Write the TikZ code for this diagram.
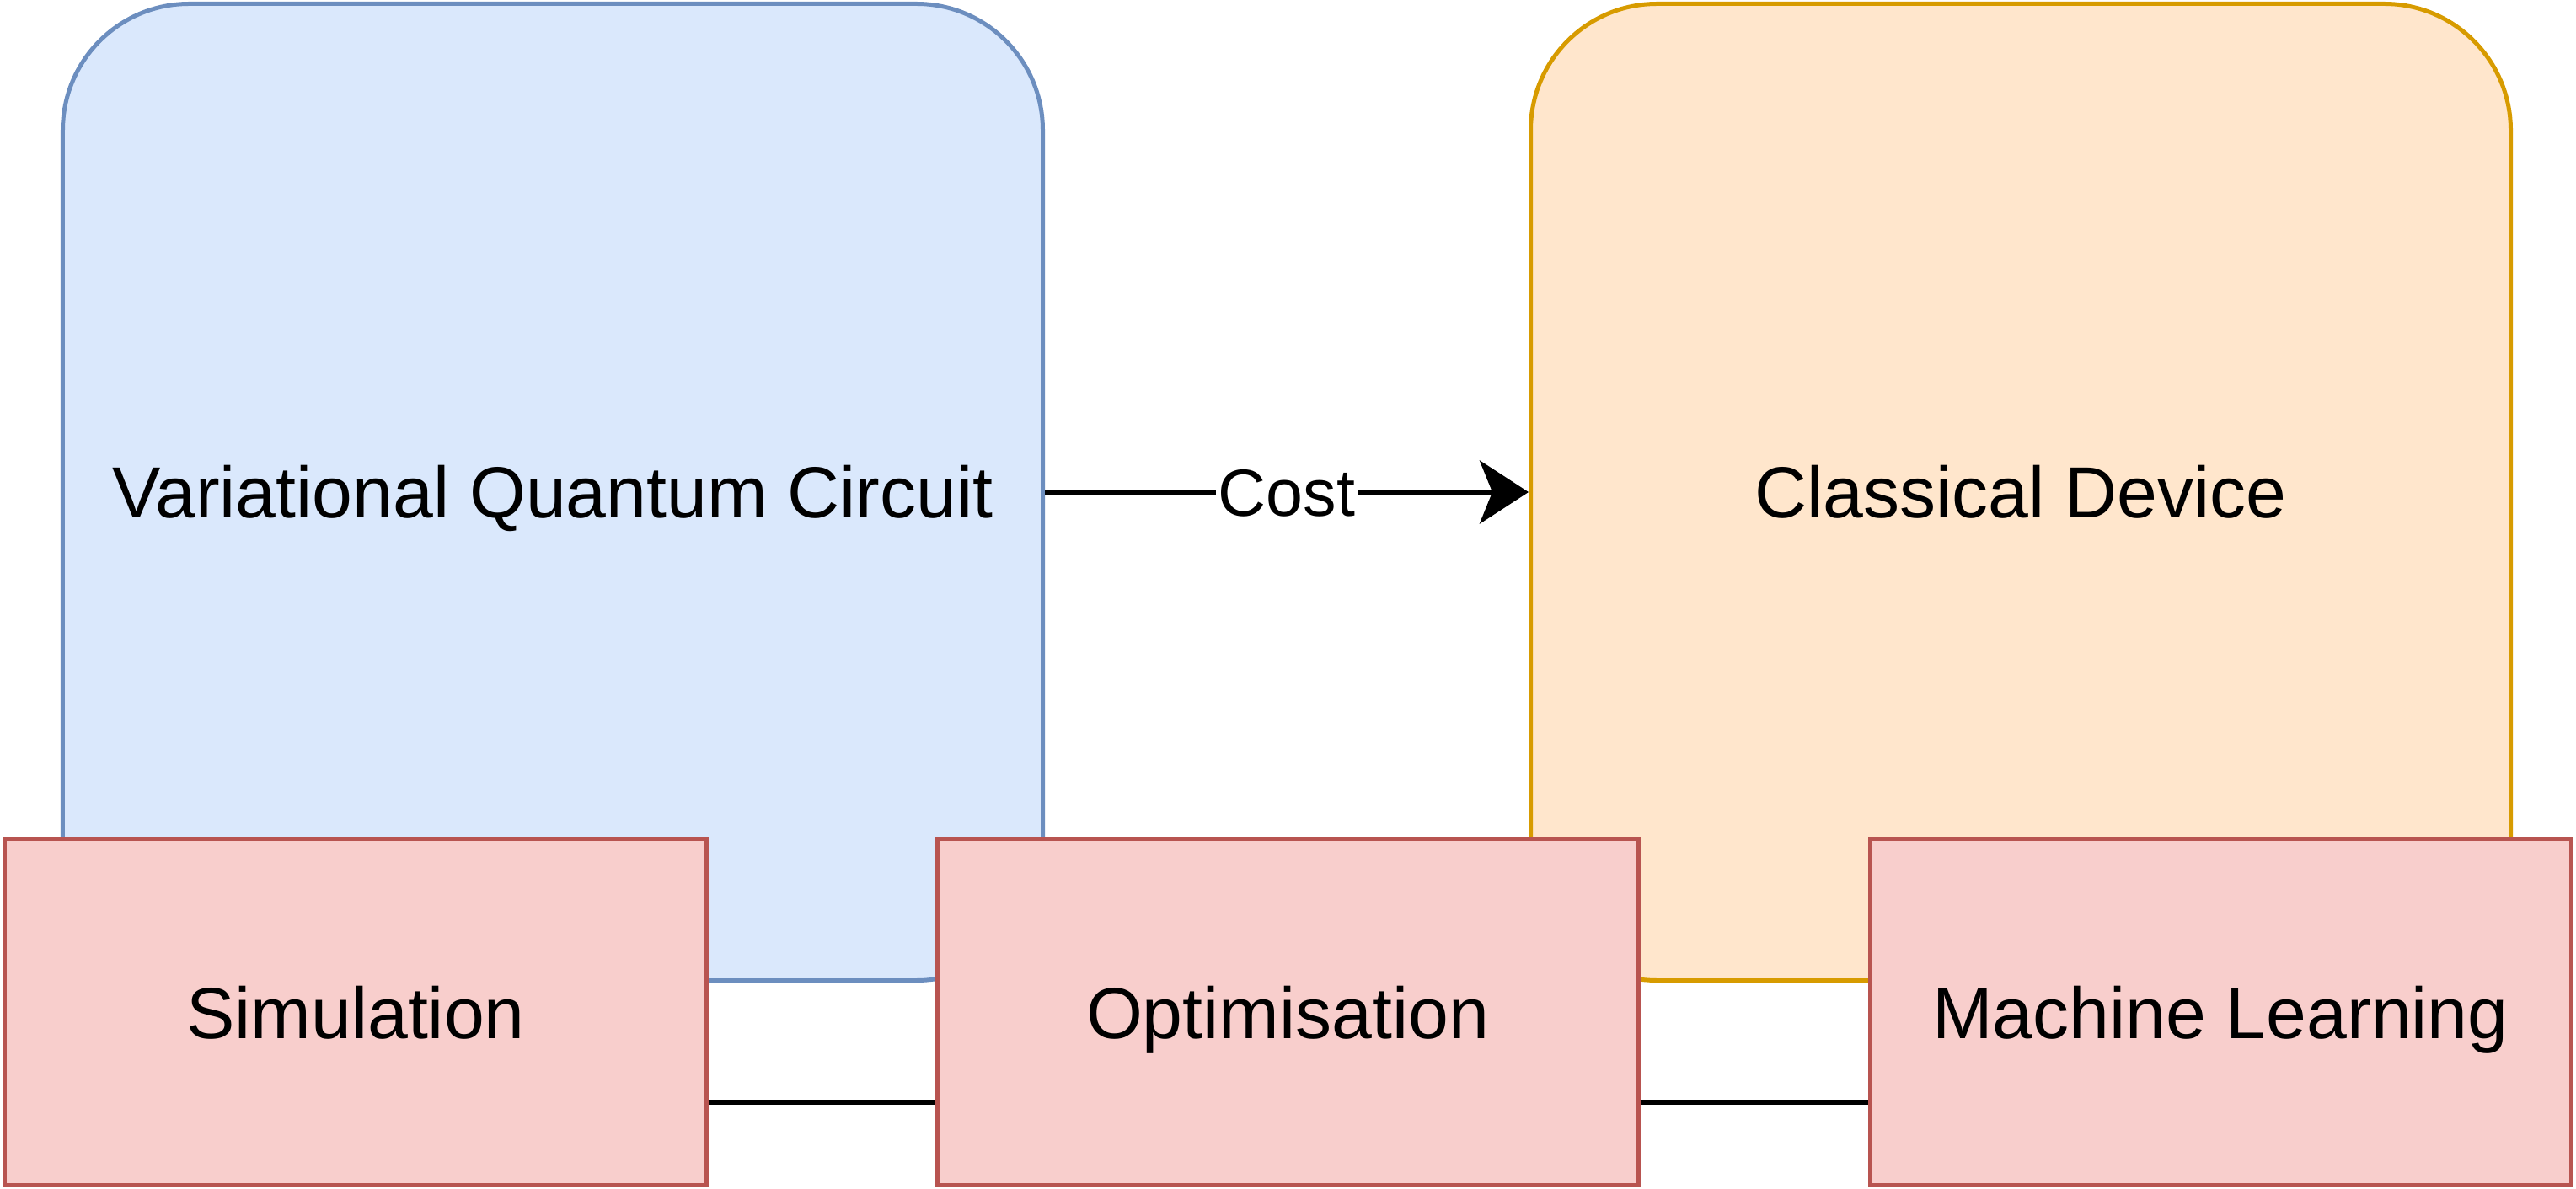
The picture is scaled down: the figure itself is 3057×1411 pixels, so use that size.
\documentclass[tikz,border=0pt]{standalone}
\usepackage{fontspec}
\setmainfont{Liberation Sans}
\usetikzlibrary{arrows.meta}
\definecolor{bluefill}{HTML}{DAE8FC}
\definecolor{bluedraw}{HTML}{6C8EBF}
\definecolor{orangefill}{HTML}{FFE6CC}
\definecolor{orangedraw}{HTML}{D79B00}
\definecolor{redfill}{HTML}{F8CECC}
\definecolor{reddraw}{HTML}{B85450}
\begin{document}
\begin{tikzpicture}[x=0.2pt,y=-0.2pt,
  txt/.style={font=\fontsize{17.2}{20}\selectfont, text height=12.4pt, text depth=0pt},
  bigbox/.style={txt, rounded corners=30pt, line width=1pt, minimum width=232.6pt, minimum height=231.8pt, inner sep=0pt},
  smallbox/.style={txt, draw=reddraw, fill=redfill, line width=1pt, minimum width=166.4pt, minimum height=82pt, inner sep=0pt},
  link/.style={line width=1.2pt, black}
]
\useasboundingbox (0,0) rectangle (3057,1411);
\node[bigbox, draw=bluedraw, fill=bluefill] (vqc) at (656,584) {Variational Quantum Circuit};
\node[bigbox, draw=orangedraw, fill=orangefill] (cd) at (2398,584) {Classical Device};
\draw[link, -{Stealth[length=11.6pt, width=15pt, inset=3pt]}] (vqc.east) -- node[fill=white, inner sep=0.5pt, font=\fontsize{15.8}{18}\selectfont, text height=11.4pt, text depth=0pt] {Cost} (cd.west);
\node[smallbox] (sim) at (422,1201) {Simulation};
\node[smallbox] (opt) at (1528,1201) {Optimisation};
\node[smallbox] (ml) at (2635,1201) {Machine Learning};
\draw[link] ([yshift=-21.4pt]sim.east) -- ([yshift=-21.4pt]opt.west);
\draw[link] ([yshift=-21.4pt]opt.east) -- ([yshift=-21.4pt]ml.west);
\end{tikzpicture}
\end{document}
